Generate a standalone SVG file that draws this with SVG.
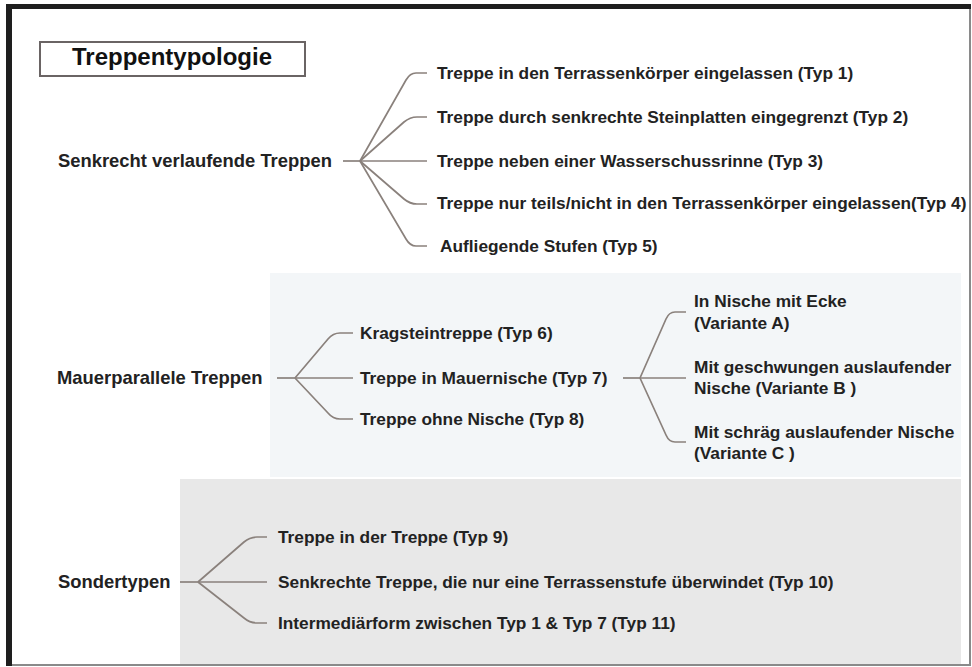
<svg xmlns="http://www.w3.org/2000/svg" width="972" height="667" viewBox="0 0 972 667">
<style>
text{font-family:"Liberation Sans",Arial,sans-serif;font-weight:bold;fill:#222}
.t{font-size:17.3px}
.h{font-size:18.4px}
.ttl{font-size:24px;fill:#111}
.c{fill:none;stroke:#8a817c;stroke-width:1.7;stroke-linejoin:round}
</style>
<rect x="0" y="0" width="972" height="667" fill="#fff"/>
<rect x="270" y="273" width="691" height="204" fill="#f3f6f8"/>
<rect x="180" y="479" width="781" height="186" fill="#e8e8e8"/>
<rect x="9" y="6" width="961" height="659" fill="none" stroke="#8a8a8a" stroke-width="2"/>
<rect x="6" y="4" width="965" height="5" fill="#1e1e1e"/>
<rect x="6" y="4" width="6" height="662" fill="#1e1e1e"/>
<g id="title">
<rect x="40" y="42" width="265" height="34" fill="#fff" stroke="#6a6464" stroke-width="2"/>
<text class="ttl" x="72" y="65">Treppentypologie</text>
</g>
<g id="connectors">
<path class="c" d="M343 161H360"/>
<path class="c" d="M360 161L406 80Q410 73 416 73H427"/>
<path class="c" d="M360 161L404 122Q410 117 417 117H427"/>
<path class="c" d="M360 161H427"/>
<path class="c" d="M360 161L404 199Q410 204 417 204H427"/>
<path class="c" d="M360 161L406 239Q410 246 416 246H427"/>
<path class="c" d="M277 378H295"/>
<path class="c" d="M295 378L328 339Q333 333 340 333H353"/>
<path class="c" d="M295 378H353"/>
<path class="c" d="M295 378L328 413Q333 419 340 419H353"/>
<path class="c" d="M623 378H640"/>
<path class="c" d="M640 378L666 319Q669 312 675 312H686"/>
<path class="c" d="M640 378H686"/>
<path class="c" d="M640 378L666 435Q669 442 675 442H686"/>
<path class="c" d="M180 582H198"/>
<path class="c" d="M198 582L244 542Q250 537 257 537H267"/>
<path class="c" d="M198 582H267"/>
<path class="c" d="M198 582L244 618Q250 623 257 623H267"/>
</g>
<g id="senkrecht"><text class="h" x="58" y="167">Senkrecht verlaufende Treppen</text></g>
<g id="typ1"><text class="t" x="437" y="79">Treppe in den Terrassenkörper eingelassen (Typ 1)</text></g>
<g id="typ2"><text class="t" x="437" y="123">Treppe durch senkrechte Steinplatten eingegrenzt (Typ 2)</text></g>
<g id="typ3"><text class="t" x="437" y="167">Treppe neben einer Wasserschussrinne (Typ 3)</text></g>
<g id="typ4"><text class="t" x="437" y="209">Treppe nur teils/nicht in den Terrassenkörper eingelassen(Typ 4)</text></g>
<g id="typ5"><text class="t" x="440" y="252">Aufliegende Stufen (Typ 5)</text></g>
<g id="mauerparallel"><text class="h" x="57" y="384">Mauerparallele Treppen</text></g>
<g id="typ6"><text class="t" x="360" y="339">Kragsteintreppe (Typ 6)</text></g>
<g id="typ7"><text class="t" x="360" y="384">Treppe in Mauernische (Typ 7)</text></g>
<g id="typ8"><text class="t" x="360" y="425">Treppe ohne Nische (Typ 8)</text></g>
<g id="varA"><text class="t" x="694" y="307">In Nische mit Ecke</text><text class="t" x="694" y="329">(Variante A)</text></g>
<g id="varB"><text class="t" x="694" y="373">Mit geschwungen auslaufender</text><text class="t" x="694" y="394">Nische (Variante B )</text></g>
<g id="varC"><text class="t" x="694" y="438">Mit schräg auslaufender Nische</text><text class="t" x="694" y="459">(Variante C )</text></g>
<g id="sondertypen"><text class="h" x="58" y="588">Sondertypen</text></g>
<g id="typ9"><text class="t" x="278" y="543">Treppe in der Treppe (Typ 9)</text></g>
<g id="typ10"><text class="t" x="278" y="588">Senkrechte Treppe, die nur eine Terrassenstufe überwindet (Typ 10)</text></g>
<g id="typ11"><text class="t" x="278" y="629">Intermediärform zwischen Typ 1 &amp; Typ 7 (Typ 11)</text></g>
</svg>
